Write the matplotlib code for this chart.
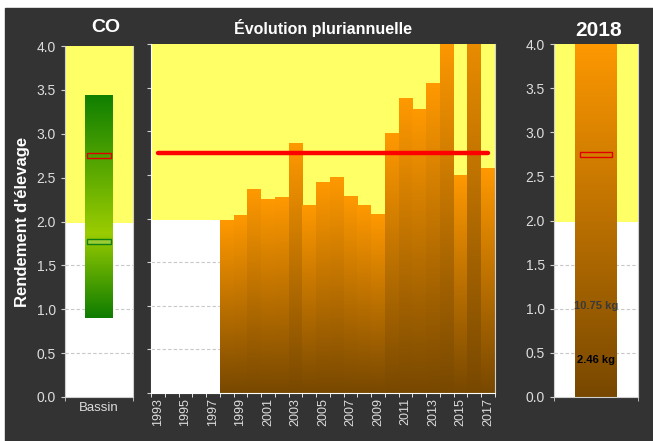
import numpy as np
import matplotlib
matplotlib.use('Agg')
import matplotlib.pyplot as plt
from matplotlib.colors import LinearSegmentedColormap
from matplotlib.patches import Rectangle

# Données
annees = list(range(1993, 2018))
rendement = [np.nan] * 5 + [1.98, 2.03, 2.33, 2.22, 2.24, 2.86, 2.15, 2.41, 2.47, 2.25,
                            2.15, 2.05, 2.97, 3.38, 3.25, 3.55, 4.10, 2.49, 4.80, 2.57]
objectif = 2.75          # ligne rouge / repère rouge
seuil = 1.98             # limite basse de la zone jaune
bassin_min, bassin_max = 0.90, 3.43
bassin_moyenne = 1.77    # repère vert
valeur_2018 = 4.05
textes_2018 = ['10.75 kg', '2.46 kg']
pos_textes_2018 = [1.03, 0.42]

plt.rcParams['font.family'] = ['Liberation Sans', 'DejaVu Sans']

W, H = 653, 441
fig = plt.figure(figsize=(W / 100, H / 100), dpi=100, facecolor='white')
fig.patches.append(Rectangle((5 / W, 0), 1 - 5 / W, 1 - 8 / H, transform=fig.transFigure,
                             color='#333333', zorder=-10))

TXT = '#dddddd'
YEL = '#ffff66'
orange = LinearSegmentedColormap.from_list('or', ['#784800', '#ff9900'])
vert = LinearSegmentedColormap.from_list('vt', [(0, '#0e7c00'), (0.38, '#9acc00'), (1, '#0f7f00')])


def axe(x0, y0, x1, y1):
    return fig.add_axes([x0 / W, 1 - y1 / H, (x1 - x0) / W, (y1 - y0) / H])


def barre_degrade(ax, x, largeur, haut, cmap, bas=0.0):
    img = cmap(np.linspace(0, 1, 256))[:, None, :]
    ax.imshow(img, extent=(x - largeur / 2, x + largeur / 2, bas, haut), origin='lower',
              aspect='auto', interpolation='bilinear', zorder=2)


def fond(ax, x_min, x_max):
    ax.set_facecolor('white')
    ax.axhspan(seuil, 4.0, color=YEL, zorder=0, lw=0)
    for g in (0.5, 1.0, 1.5):
        ax.axhline(g, color='#c8c8c8', ls=(0, (3, 2)), lw=0.8, zorder=1)
    ax.set_xlim(x_min, x_max)
    ax.set_ylim(0, 4.0)
    ax.set_yticks(np.arange(0, 4.01, 0.5))
    for s in ('left', 'right', 'bottom'):
        ax.spines[s].set_color('#d0d0d0')
    ax.spines['top'].set_visible(False)
    ax.tick_params(colors='#d0d0d0', labelcolor=TXT, labelsize=9, length=3)
    ax.tick_params(axis='y', labelsize=10)
    ax.set_xticks([x_min, x_max], minor=True)
    ax.tick_params(axis='x', which='minor', length=3, color='#d0d0d0')
    ax.tick_params(axis='x', which='major', length=0)


# Panneau gauche : CO
ax1 = axe(65, 46, 133, 397)
barre_degrade(ax1, 0, 0.41, bassin_max, vert, bas=bassin_min)
ax1.add_patch(Rectangle((-0.17, objectif - 0.03), 0.34, 0.06, fill=False, ec='#e00000', lw=1, zorder=3))
ax1.add_patch(Rectangle((-0.17, bassin_moyenne - 0.03), 0.34, 0.06, fc='#9ccc33', ec='#108010', lw=1, zorder=3))
fond(ax1, -0.5, 0.5)
ax1.set_xticks([0])
ax1.set_xticklabels(['Bassin'], fontsize=9.5)
ax1.set_yticklabels([f'{v:.1f}' for v in np.arange(0, 4.01, 0.5)])
ax1.set_ylabel("Rendement d'élevage", color='white', fontsize=12, fontweight='bold', labelpad=5)

# Panneau central : évolution pluriannuelle
ax2 = axe(151, 44, 495, 393)
x = np.arange(len(annees))
for xi, v in zip(x, rendement):
    if not np.isnan(v):
        barre_degrade(ax2, xi, 1.0, v, orange)
ax2.plot([x[0], x[-1]], [objectif, objectif], color='#ff0000', lw=3.2, solid_capstyle='round', zorder=4)
fond(ax2, -0.5, len(annees) - 0.5)
ax2.spines['left'].set_color('white')
ax2.spines['bottom'].set_color('white')
ax2.set_yticklabels([])
ax2.set_xticks(x[::2])
ax2.set_xticklabels([str(a) for a in annees[::2]], rotation=90)
ax2.set_xticks(np.arange(-0.5, len(annees)), minor=True)
ax2.tick_params(axis='x', which='minor', length=3, color='white')

# Panneau droit : 2018
ax3 = axe(554, 44, 638, 397)
barre_degrade(ax3, 0, 0.5, valeur_2018, orange)
ax3.add_patch(Rectangle((-0.185, objectif - 0.03), 0.37, 0.06, fill=False, ec='#e00000', lw=1, zorder=3))
fond(ax3, -0.5, 0.5)
ax3.set_xticks([])
ax3.set_yticklabels([f'{v:.1f}' for v in np.arange(0, 4.01, 0.5)])
for t, yv, c in zip(textes_2018, pos_textes_2018, ['#3a3a3a', 'black']):
    ax3.text(0, yv, t, ha='center', va='center', fontsize=8, fontweight='bold', color=c, zorder=5)

# Titres
fig.text(106 / W, 1 - 28 / H, 'CO', ha='center', va='center', color='white', fontsize=14, fontweight='bold')
fig.text(323 / W, 1 - 28 / H, 'Évolution pluriannuelle', ha='center', va='center', color='white',
         fontsize=11.5, fontweight='bold')
fig.text(599 / W, 1 - 30 / H, '2018', ha='center', va='center', color='white', fontsize=15, fontweight='bold')

fig.savefig('out.png', dpi=100, facecolor=fig.get_facecolor())
